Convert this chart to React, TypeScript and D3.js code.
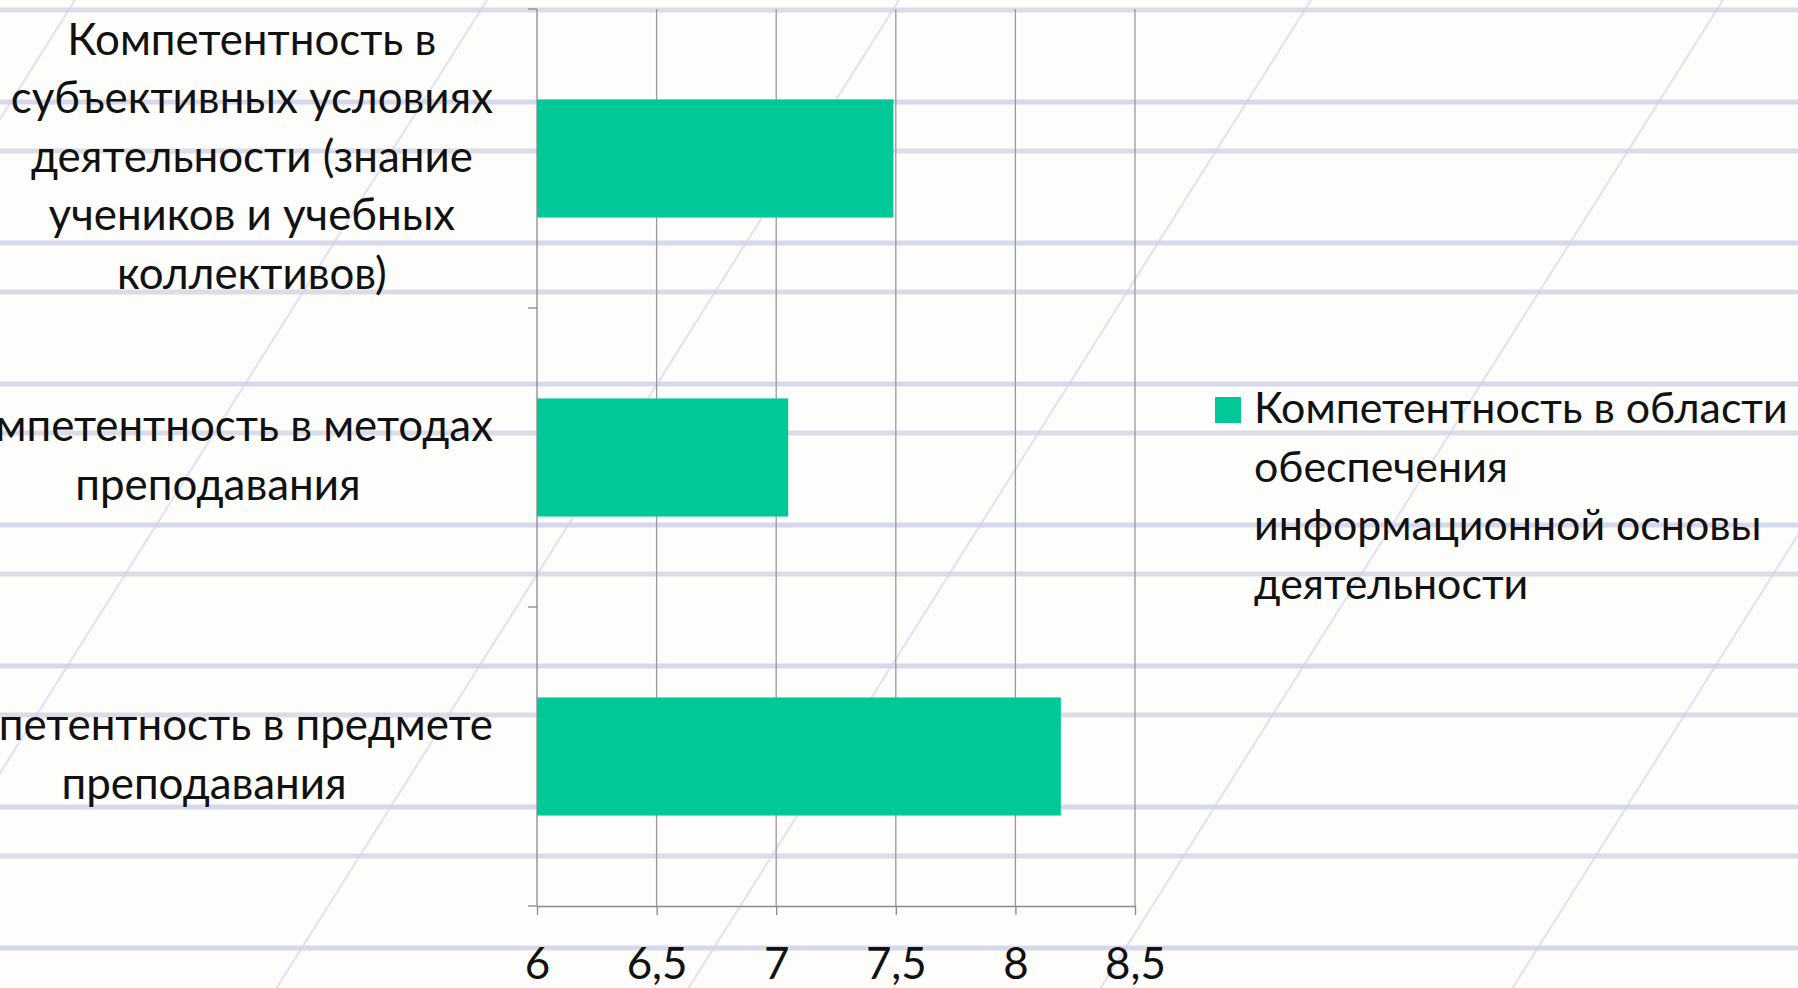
import { useEffect, useRef } from "react";
import * as d3 from "d3";

// chart data
const categories = [
  "Компетентность в субъективных условиях деятельности (знание учеников и учебных коллективов)",
  "Компетентность в методах преподавания",
  "Компетентность в предмете преподавания",
];
const categoryLines = [
  ["Компетентность в", "субъективных условиях", "деятельности (знание", "учеников и учебных", "коллективов)"],
  ["Компетентность в методах", "преподавания"],
  ["Компетентность в предмете", "преподавания"],
];
const values = [7.49, 7.05, 8.19];
const xTicks = [6, 6.5, 7, 7.5, 8, 8.5];
const legendLines = ["Компетентность в области", "обеспечения", "информационной основы", "деятельности"];

const W = 1798;
const H = 988;
const FONT = "Lato, 'Open Sans', sans-serif";
const BAR = "#00c997";

const App = () => {
  const svgRef = useRef<SVGSVGElement>(null);

  useEffect(() => {
    document.body.style.margin = "0";
    const svg = d3.select(svgRef.current);
    svg.selectAll("*").remove();
    svg.attr("width", W).attr("height", H);

    // paper background
    svg.append("rect").attr("width", W).attr("height", H).attr("fill", "#fdfdfb");
    const bg = svg.append("g");
    bg.selectAll("line.ra")
      .data(d3.range(102, H, 141))
      .join("line")
      .attr("x1", 0).attr("x2", W)
      .attr("y1", d => d).attr("y2", d => d)
      .attr("stroke", "#d8d8ec").attr("stroke-width", 5);
    bg.selectAll("line.rb")
      .data(d3.range(10, H, 141))
      .join("line")
      .attr("x1", 0).attr("x2", W)
      .attr("y1", d => d).attr("y2", d => d)
      .attr("stroke", "#dcdce6").attr("stroke-width", 5);
    bg.selectAll("line.diag")
      .data(d3.range(75, 2200, 412))
      .join("line")
      .attr("x1", d => d).attr("y1", 0)
      .attr("x2", d => d - 0.63 * H).attr("y2", H)
      .attr("stroke", "#cfcfee").attr("stroke-width", 2).attr("opacity", 0.6);

    // font calibration (Calibri-like widths)
    const probe = svg.append("text").attr("font-family", FONT).attr("font-size", 48).text(legendLines[0]);
    const pw = (probe.node() as SVGTextElement).getComputedTextLength() || 540;
    probe.remove();
    const fs = Math.max(36, Math.min(50, (48 * 546) / pw));
    const fsLegend = Math.max(36, Math.min(50, (48 * 534) / pw));

    const x = d3.scaleLinear().domain([6, 8.5]).range([537, 1135]);
    const y = d3.scaleBand().domain(categories).range([9, 906]);
    const yBar = d3.scaleBand().domain(categories).range([9, 906]).paddingInner(0.605).paddingOuter(0.3025);

    // vertical gridlines
    svg.append("g")
      .selectAll("line")
      .data(xTicks.slice(1))
      .join("line")
      .attr("x1", d => x(d)).attr("x2", d => x(d))
      .attr("y1", 9).attr("y2", 906)
      .attr("stroke", "#9a9a9a").attr("stroke-width", 1.3);

    // bars
    svg.append("g")
      .selectAll("rect")
      .data(categories)
      .join("rect")
      .attr("x", x(6))
      .attr("y", d => yBar(d)!)
      .attr("width", (d, i) => x(values[i]) - x(6))
      .attr("height", yBar.bandwidth())
      .attr("fill", BAR);

    // y axis with ticks at band boundaries
    const yAxis = svg.append("g").attr("stroke", "#8a8a8a").attr("stroke-width", 1.3);
    yAxis.append("line").attr("x1", x(6)).attr("x2", x(6)).attr("y1", 9).attr("y2", 906);
    yAxis.selectAll("line.t")
      .data([...categories.map(c => y(c)!), 906])
      .join("line")
      .attr("x1", x(6) - 9).attr("x2", x(6))
      .attr("y1", d => d).attr("y2", d => d);

    // x axis
    const fmt = d3.formatLocale({ decimal: ",", thousands: " ", grouping: [3], currency: ["", ""] }).format("~g");
    const xAxis = svg.append("g")
      .attr("transform", "translate(0,906)")
      .call(d3.axisBottom(x).tickValues(xTicks).tickSize(9).tickSizeOuter(0).tickFormat(d => fmt(d as number)));
    xAxis.select(".domain").attr("stroke", "#8a8a8a").attr("stroke-width", 1.3);
    xAxis.selectAll(".tick line").attr("stroke", "#8a8a8a").attr("stroke-width", 1.3);
    xAxis.selectAll(".tick text")
      .attr("y", 73).attr("dy", 0)
      .attr("font-family", FONT).attr("font-size", fs)
      .attr("fill", "#111");

    // category labels: block right-aligned, lines centred
    const lh = 58.5;
    categories.forEach((c, i) => {
      const lines = categoryLines[i];
      const cy = y(c)! + y.bandwidth() / 2;
      const g = svg.append("g").attr("font-family", FONT).attr("font-size", fs).attr("fill", "#111");
      const texts = g.selectAll("text")
        .data(lines)
        .join("text")
        .attr("text-anchor", "middle")
        .attr("y", (d, j) => cy + (j - (lines.length - 1) / 2) * lh + fs * 0.3)
        .text(d => d);
      let maxW = 0;
      texts.each(function () {
        maxW = Math.max(maxW, (this as SVGTextElement).getComputedTextLength());
      });
      texts.attr("x", 493 - maxW / 2);
    });

    // legend
    const lg = svg.append("g");
    lg.append("rect").attr("x", 1215).attr("y", 397).attr("width", 26).attr("height", 26).attr("fill", BAR);
    lg.selectAll("text")
      .data(legendLines)
      .join("text")
      .attr("x", 1254)
      .attr("y", (d, j) => 423 + j * lh)
      .attr("font-family", FONT).attr("font-size", fsLegend)
      .attr("fill", "#111")
      .text(d => d);

    return () => {
      svg.selectAll("*").remove();
    };
  }, []);

  return <svg ref={svgRef} style={{ display: "block" }}></svg>;
};

export default App;
